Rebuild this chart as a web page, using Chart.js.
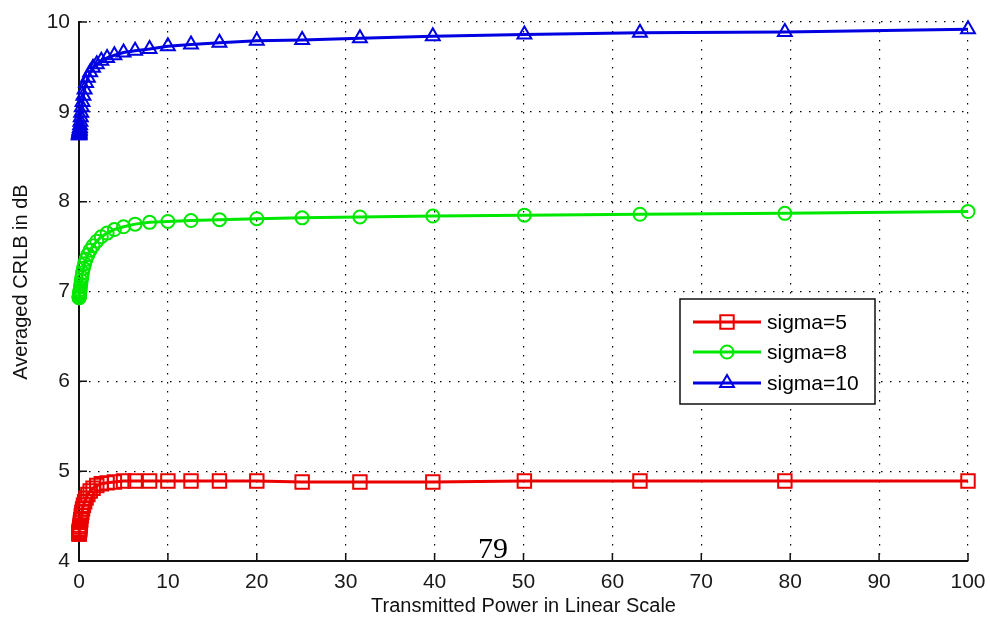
<!DOCTYPE html>
<html>
<head>
<meta charset="utf-8">
<script src="https://cdn.jsdelivr.net/npm/chart.js@4.4.0/dist/chart.umd.min.js"></script>
<style>
  html, body { margin: 0; padding: 0; background: #fff; }
  canvas { display: block; }
</style>
</head>
<body>
<canvas id="crlb" width="990" height="620"></canvas>
<script>
// transmitted power (linear), ten points per decade from 0.01 to 100
const power = [0.01, 0.0126, 0.0158, 0.02, 0.0251, 0.0316, 0.0398, 0.0501, 0.0631, 0.0794,
  0.1, 0.126, 0.158, 0.2, 0.251, 0.316, 0.398, 0.501, 0.631, 0.794,
  1, 1.26, 1.58, 2, 2.51, 3.16, 3.98, 5.01, 6.31, 7.94,
  10, 12.6, 15.8, 20, 25.1, 31.6, 39.8, 50.1, 63.1, 79.4, 100];

// averaged CRLB in dB
const sigma5 = [4.30, 4.30, 4.31, 4.31, 4.32, 4.32, 4.33, 4.34, 4.35, 4.36,
  4.38, 4.40, 4.43, 4.46, 4.50, 4.54, 4.58, 4.62, 4.66, 4.70,
  4.74, 4.78, 4.81, 4.84, 4.86, 4.87, 4.88, 4.89, 4.89, 4.89,
  4.89, 4.89, 4.89, 4.89, 4.88, 4.88, 4.88, 4.89, 4.89, 4.89, 4.89];
const sigma8 = [6.93, 6.93, 6.94, 6.94, 6.95, 6.95, 6.96, 6.97, 6.98, 6.99,
  7.00, 7.02, 7.05, 7.08, 7.12, 7.16, 7.21, 7.26, 7.31, 7.36,
  7.41, 7.46, 7.51, 7.56, 7.61, 7.65, 7.69, 7.72, 7.75, 7.77,
  7.78, 7.79, 7.80, 7.81, 7.82, 7.83, 7.84, 7.85, 7.86, 7.87, 7.89];
const sigma10 = [8.74, 8.74, 8.75, 8.75, 8.76, 8.76, 8.77, 8.78, 8.79, 8.80,
  8.82, 8.85, 8.89, 8.94, 8.99, 9.05, 9.11, 9.18, 9.25, 9.32,
  9.38, 9.44, 9.49, 9.53, 9.57, 9.60, 9.63, 9.66, 9.68, 9.70,
  9.73, 9.75, 9.77, 9.79, 9.80, 9.82, 9.84, 9.86, 9.88, 9.89, 9.92];

const seriesNames = ['sigma=5', 'sigma=8', 'sigma=10'];
const xTicks = [0, 10, 20, 30, 40, 50, 60, 70, 80, 90, 100];
const yTicks = [4, 5, 6, 7, 8, 9, 10];

const xTitle = 'Transmitted Power in Linear Scale';
const yTitle = 'Averaged CRLB in dB';
const pageNo = '79';

const sans = "'Liberation Sans', Arial, sans-serif";
const RED = 'rgb(235,0,0)';
const GREEN = 'rgb(0,232,0)';
const BLUE = 'rgb(0,0,225)';

const series = (label, values, color, style, radius) => ({
  label,
  data: power.map((p, i) => ({ x: p, y: values[i] })),
  borderColor: color,
  borderWidth: 3,
  pointStyle: style,
  pointRadius: radius,
  pointBorderWidth: 2,
  pointBorderColor: color,
  pointBackgroundColor: 'rgba(0,0,0,0)',
  tension: 0,
  clip: false,
});

// marker shapes as plotted, reused for the legend
const drawMarker = (ctx, style, x, y, r) => {
  ctx.beginPath();
  if (style === 'rect') {
    const s = r * Math.SQRT1_2;
    ctx.rect(x - s, y - s, 2 * s, 2 * s);
  } else if (style === 'circle') {
    ctx.arc(x, y, r, 0, Math.PI * 2);
  } else {
    const h = Math.sqrt(3) / 2 * r;
    ctx.moveTo(x, y - r);
    ctx.lineTo(x + h, y + r / 2);
    ctx.lineTo(x - h, y + r / 2);
    ctx.closePath();
  }
  ctx.stroke();
};

const matlabFrame = {
  id: 'matlabFrame',
  beforeDatasetsDraw(chart) {
    const { ctx, chartArea: a, scales: { x, y } } = chart;
    ctx.save();
    ctx.strokeStyle = '#111';
    ctx.lineWidth = 1.5;
    ctx.beginPath();
    xTicks.forEach(v => {
      const px = x.getPixelForValue(v);
      ctx.moveTo(px, a.bottom);
      ctx.lineTo(px, a.bottom - 8);
    });
    yTicks.forEach(v => {
      const py = y.getPixelForValue(v);
      ctx.moveTo(a.left, py);
      ctx.lineTo(a.left + 8, py);
    });
    ctx.stroke();
    ctx.restore();
  },
  afterDraw(chart) {
    const { ctx, chartArea: a } = chart;
    ctx.save();

    // axis titles
    ctx.fillStyle = '#111';
    ctx.font = `20px ${sans}`;
    ctx.textAlign = 'center';
    ctx.textBaseline = 'middle';
    ctx.fillText(xTitle, (a.left + a.right) / 2, 606);
    ctx.translate(21, 282);
    ctx.rotate(-Math.PI / 2);
    ctx.fillText(yTitle, 0, 0);
    ctx.setTransform(1, 0, 0, 1, 0, 0);

    // legend box
    const box = { left: 680, top: 299, right: 875, bottom: 404 };
    ctx.fillStyle = '#fff';
    ctx.fillRect(box.left, box.top, box.right - box.left, box.bottom - box.top);
    ctx.strokeStyle = '#111';
    ctx.lineWidth = 1.5;
    ctx.strokeRect(box.left, box.top, box.right - box.left, box.bottom - box.top);

    const rows = [322, 352, 383];
    ctx.font = `21px ${sans}`;
    ctx.textAlign = 'left';
    chart.data.datasets.forEach((ds, i) => {
      const ly = rows[i];
      ctx.strokeStyle = ds.borderColor;
      ctx.lineWidth = 3;
      ctx.beginPath();
      ctx.moveTo(693, ly);
      ctx.lineTo(761, ly);
      ctx.stroke();
      ctx.lineWidth = 2;
      drawMarker(ctx, ds.pointStyle, 727, ly, ds.pointRadius);
      ctx.fillStyle = '#000';
      ctx.fillText(seriesNames[i], 767, ly + 1);
    });

    // page number printed over the figure
    ctx.fillStyle = '#000';
    ctx.font = "30px 'Liberation Serif', 'Times New Roman', serif";
    ctx.textAlign = 'center';
    ctx.textBaseline = 'alphabetic';
    ctx.fillText(pageNo, 493, 558);
    ctx.restore();
  },
};

new Chart('crlb', {
  type: 'line',
  data: {
    datasets: [
      series(seriesNames[0], sigma5, RED, 'rect', 9.5),
      series(seriesNames[1], sigma8, GREEN, 'circle', 6.5),
      series(seriesNames[2], sigma10, BLUE, 'triangle', 8),
    ],
  },
  options: {
    responsive: false,
    animation: false,
    events: [],
    layout: { padding: { top: 22, right: 22, left: 0, bottom: 0 } },
    plugins: {
      legend: { display: false },
      tooltip: { enabled: false },
    },
    scales: {
      x: {
        type: 'linear',
        min: 0,
        max: 100,
        afterBuildTicks: s => { s.ticks = xTicks.map(v => ({ value: v })); },
        afterFit: s => { s.height = 59; s.paddingLeft = 0; s.paddingRight = 0; },
        grid: { color: '#000', lineWidth: 1.2, drawTicks: false },
        border: { display: true, color: '#111', width: 2, dash: [1.5, 7.5] },
        ticks: { padding: 9, color: '#1a1a1a', font: { family: sans, size: 21 }, maxRotation: 0 },
      },
      y: {
        type: 'linear',
        min: 4,
        max: 10,
        afterBuildTicks: s => { s.ticks = yTicks.map(v => ({ value: v })); },
        afterFit: s => { s.width = 79; s.paddingTop = 0; s.paddingBottom = 0; },
        grid: { color: '#000', lineWidth: 1.2, drawTicks: false },
        border: { display: true, color: '#111', width: 2, dash: [1.5, 7.5] },
        ticks: { padding: 9, color: '#1a1a1a', font: { family: sans, size: 21 } },
      },
    },
  },
  plugins: [matlabFrame],
});
</script>
</body>
</html>
